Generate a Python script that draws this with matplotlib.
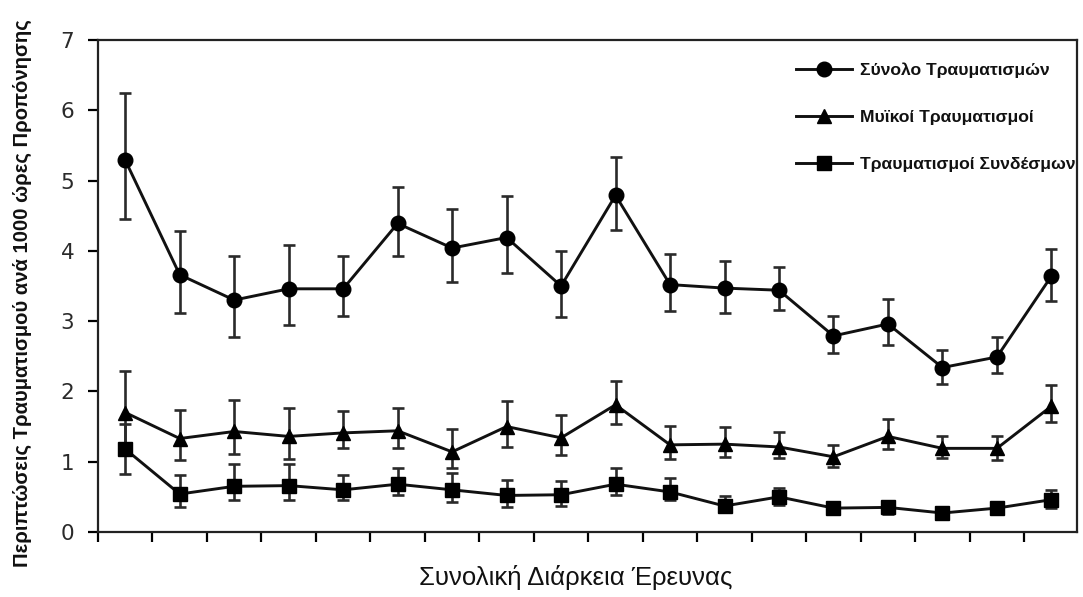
import matplotlib
matplotlib.use("Agg")
import matplotlib.pyplot as plt
import numpy as np

periods = list(range(1, 19))

total = [5.29, 3.66, 3.30, 3.46, 3.46, 4.39, 4.04, 4.19, 3.50, 4.79, 3.52, 3.47, 3.44, 2.79, 2.96, 2.34, 2.49, 3.64]
total_hi = [6.25, 4.28, 3.93, 4.08, 3.92, 4.91, 4.60, 4.78, 4.00, 5.33, 3.95, 3.86, 3.77, 3.07, 3.31, 2.59, 2.78, 4.03]
total_lo = [4.46, 3.12, 2.77, 2.94, 3.07, 3.93, 3.55, 3.68, 3.06, 4.30, 3.15, 3.12, 3.16, 2.54, 2.66, 2.11, 2.26, 3.29]

muscle = [1.70, 1.33, 1.43, 1.36, 1.41, 1.44, 1.14, 1.50, 1.34, 1.81, 1.24, 1.25, 1.21, 1.07, 1.36, 1.19, 1.19, 1.79]
muscle_hi = [2.29, 1.74, 1.88, 1.76, 1.72, 1.77, 1.47, 1.87, 1.66, 2.15, 1.51, 1.50, 1.42, 1.24, 1.61, 1.37, 1.37, 2.09]
muscle_lo = [1.11, 1.02, 1.11, 1.04, 1.19, 1.20, 0.91, 1.21, 1.10, 1.53, 1.04, 1.07, 1.05, 0.93, 1.18, 1.05, 1.03, 1.57]

ligament = [1.18, 0.54, 0.65, 0.66, 0.60, 0.68, 0.60, 0.52, 0.53, 0.68, 0.57, 0.37, 0.50, 0.34, 0.35, 0.27, 0.34, 0.46]
ligament_hi = [1.54, 0.81, 0.97, 0.97, 0.81, 0.91, 0.84, 0.74, 0.73, 0.91, 0.77, 0.51, 0.62, 0.42, 0.44, 0.33, 0.41, 0.60]
ligament_lo = [0.82, 0.35, 0.45, 0.46, 0.46, 0.53, 0.43, 0.36, 0.37, 0.53, 0.45, 0.29, 0.38, 0.26, 0.26, 0.21, 0.27, 0.34]

labels = ["Σύνολο Τραυματισμών", "Μυϊκοί Τραυματισμοί", "Τραυματισμοί Συνδέσμων"]
y_ticks = [0, 1, 2, 3, 4, 5, 6, 7]
xlabel = "Συνολική Διάρκεια Έρευνας"
ylabel = "Περιπτώσεις Τραυματισμού ανά 1000 ώρες Προπόνησης"

fig = plt.figure(figsize=(10.83, 5.97), dpi=100)
ax = fig.add_axes([98 / 1083, 1 - 532 / 597, (1077 - 98) / 1083, (532 - 40) / 597])

series = [
    (total, total_lo, total_hi, "o", 10.5),
    (muscle, muscle_lo, muscle_hi, "^", 10.5),
    (ligament, ligament_lo, ligament_hi, "s", 10),
]
x = np.array(periods)
for (vals, lo, hi, mk, ms), lab in zip(series, labels):
    v = np.array(vals)
    yerr = [v - np.array(lo), np.array(hi) - v]
    ax.errorbar(x, v, yerr=yerr, fmt="none", ecolor="#2a2a2a", elinewidth=1.9,
                capsize=4.6, capthick=1.9, zorder=2)
    ax.plot(x, v, color="#111111", lw=2.1, marker=mk, markersize=ms,
            markerfacecolor="black", markeredgecolor="black", label=lab, zorder=3)

ax.set_xlim(0.5, 18.47)
ax.set_ylim(0, 7)
ax.set_yticks(y_ticks)
ax.set_xticks(np.arange(0.5, 18.0, 1.0))
ax.set_xticklabels([])
ax.tick_params(axis="y", direction="out", length=7, width=1.6, labelsize=15.5, pad=10,
               labelcolor="#2a2a2a")
ax.tick_params(axis="x", direction="out", length=7, width=1.6)
for sp in ax.spines.values():
    sp.set_linewidth(1.6)
    sp.set_color("#222222")

fig.text(576 / 1083, 1 - 578 / 597, xlabel, ha="center", va="center",
         fontsize=18.5, family=["Liberation Sans", "DejaVu Sans"], color="#111111")
fig.text(22 / 1083, 1 - 293 / 597, ylabel, ha="center", va="center", rotation=90,
         fontsize=14.6, fontweight="bold",
         family=["Liberation Sans Narrow", "Liberation Sans", "DejaVu Sans"], color="#111111")

leg = ax.legend(loc="upper left", bbox_to_anchor=((780 - 98) / (1077 - 98), 1 - 7 / 492),
                frameon=False, handlelength=3.2, handletextpad=0.45, labelspacing=1.8,
                prop={"family": ["Liberation Sans Narrow", "Liberation Sans", "DejaVu Sans"],
                      "weight": "bold", "size": 12.6})
for t in leg.get_texts():
    t.set_color("#111111")

fig.savefig("out.png", dpi=100)
